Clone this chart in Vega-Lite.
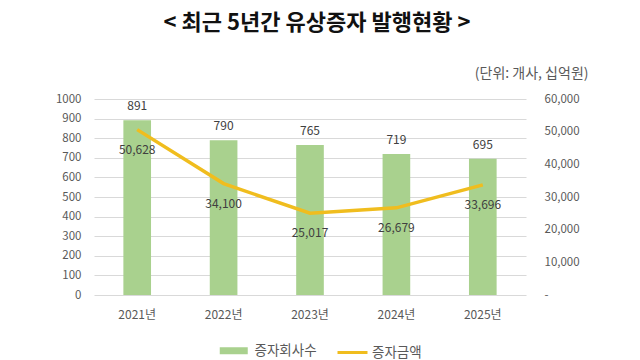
{
  "$schema": "https://vega.github.io/schema/vega-lite/v6.json",
  "width": 432,
  "height": 196,
  "autosize": {"type": "none"},
  "padding": {"left": 94, "top": 99, "right": 114, "bottom": 65},
  "background": "white",
  "config": {
    "font": "Noto Sans CJK KR",
    "view": {"stroke": null},
    "axis": {"labelFont": "Noto Sans CJK KR", "labelColor": "#595959", "labelFontSize": 11.5, "domain": false, "ticks": false}
  },
  "title": {
    "text": "< 최근 5년간 유상증자 발행현황 >",
    "frame": "group",
    "anchor": "middle",
    "fontSize": 22,
    "fontWeight": "bold",
    "color": "#111111",
    "font": "Noto Sans CJK KR",
    "offset": 31,
    "dx": 7
  },
  "data": {
    "values": [
      {"year": "2021년", "count": 891, "amount": 50628},
      {"year": "2022년", "count": 790, "amount": 34100},
      {"year": "2023년", "count": 765, "amount": 25017},
      {"year": "2024년", "count": 719, "amount": 26679},
      {"year": "2025년", "count": 695, "amount": 33696}
    ]
  },
  "encoding": {
    "x": {
      "field": "year",
      "type": "ordinal",
      "sort": null,
      "scale": {"paddingInner": 0.68, "paddingOuter": 0.34},
      "axis": {"title": null, "labelAngle": 0, "labelPadding": 14, "labelFontSize": 12, "grid": false}
    }
  },
  "layer": [
    {
      "encoding": {
        "y": {
          "field": "count",
          "type": "quantitative",
          "scale": {"domain": [0, 1000], "nice": false},
          "axis": {
            "title": null,
            "values": [0, 100, 200, 300, 400, 500, 600, 700, 800, 900, 1000],
            "grid": true,
            "gridColor": "#d9d9d9",
            "labelPadding": 13,
            "format": "d"
          }
        }
      },
      "layer": [
        {
          "mark": {"type": "bar"},
          "encoding": {
            "fill": {
              "datum": "증자회사수",
              "type": "nominal",
              "scale": {"range": ["#a9d18e"]},
              "legend": {
                "title": null,
                "orient": "none",
                "legendX": 133,
                "legendY": 245,
                "padding": 0,
                "symbolType": "M-2.8,-0.7H2.8V0.7H-2.8Z",
                "symbolSize": 100,
                "symbolStrokeWidth": 0,
                "labelOffset": 14,
                "labelFontSize": 13.5,
                "labelColor": "#595959",
                "labelFont": "Noto Sans CJK KR"
              }
            }
          }
        },
        {
          "mark": {"type": "text", "baseline": "middle", "dy": -14, "fontSize": 12, "color": "#404040"},
          "encoding": {"text": {"field": "count", "type": "quantitative", "format": "d"}}
        }
      ]
    },
    {
      "encoding": {
        "y": {
          "field": "amount",
          "type": "quantitative",
          "scale": {"domain": [0, 60000], "nice": false},
          "axis": {
            "orient": "right",
            "values": [0, 10000, 20000, 30000, 40000, 50000, 60000],
            "grid": false,
            "labelAlign": "left",
            "labelPadding": 18,
            "labelExpr": "datum.value == 0 ? '-' : format(datum.value, ',')",
            "title": "(단위: 개사, 십억원)",
            "titleAngle": 0,
            "titleAlign": "right",
            "titleBaseline": "middle",
            "titleX": 62,
            "titleY": -26,
            "titleFontSize": 14,
            "titleFontWeight": "normal",
            "titleColor": "#595959",
            "titleFont": "Noto Sans CJK KR"
          }
        }
      },
      "layer": [
        {
          "mark": {"type": "line", "strokeWidth": 3.5},
          "encoding": {
            "stroke": {
              "datum": "증자금액",
              "type": "nominal",
              "scale": {"range": ["#f0bd1e"]},
              "legend": {
                "title": null,
                "orient": "none",
                "legendX": 242,
                "legendY": 237,
                "padding": 0,
                "symbolType": "stroke",
                "symbolSize": 900,
                "symbolStrokeWidth": 3,
                "labelOffset": 3,
                "labelFontSize": 13.5,
                "labelColor": "#595959",
                "labelFont": "Noto Sans CJK KR"
              }
            }
          }
        },
        {
          "mark": {"type": "text", "baseline": "middle", "dy": 20, "fontSize": 12, "color": "#404040"},
          "encoding": {"text": {"field": "amount", "type": "quantitative", "format": ","}}
        }
      ]
    }
  ],
  "resolve": {"scale": {"y": "independent"}}
}
